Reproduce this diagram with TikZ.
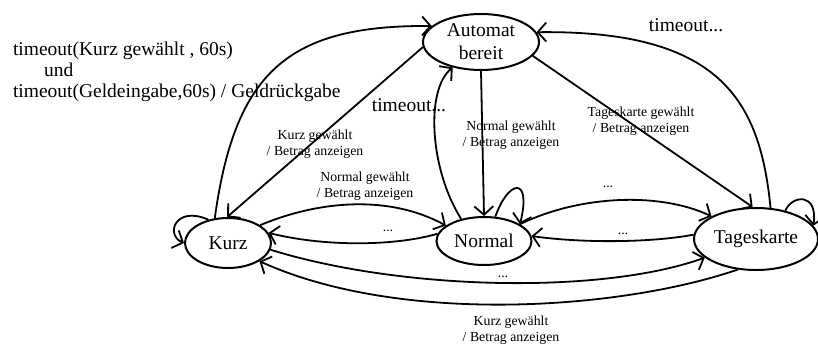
\documentclass[tikz,border=0pt]{standalone}
\usepackage{fontspec}
\setmainfont{Liberation Serif}
\usetikzlibrary{arrows.meta,shapes.geometric}
\begin{document}
\begin{tikzpicture}[x=1pt,y=-1pt,
  line width=2pt,
  state/.style={ellipse, draw, line width=2pt, inner sep=0pt, align=center,
    font=\fontsize{19.5}{23}\selectfont},
  big/.style={font=\fontsize{19.5}{21}\selectfont, inner sep=0pt},
  small/.style={font=\fontsize{13.8}{16}\selectfont, inner sep=0pt, align=center},
  trans/.style={-{Straight Barb[length=8.5pt,width=19pt]}, line width=1.8pt},
]
\fill[white] (0,0) rectangle (818,345);
\useasboundingbox (0,0) rectangle (818,345);

% states
\node[state, minimum width=116, minimum height=56] (auto) at (481,42) {Automat\\bereit};
\node[state, minimum width=86, minimum height=50] (kurz) at (228,243) {Kurz};
\node[state, minimum width=95, minimum height=48] (normal) at (484,241) {Normal};
\node[state, minimum width=124, minimum height=62] (tages) at (756,239) {Tageskarte};

% transitions to and from the ready state
\draw[trans] (kurz.118) .. controls (235,70) and (290,25) .. (auto.162);
\draw[trans] (auto.185) -- (kurz.92);
\draw[trans] (normal.136) .. controls (430,170) and (425,90) .. (auto.222);
\draw[trans] (auto.south) -- (normal.north);
\draw[trans] (auto.-15) -- (tages.96);
\draw[trans] (tages.65) .. controls (760,100) and (720,30) .. (auto.10);

% self loops
\draw[trans] (kurz.130) .. controls (175,205) and (165,235) .. (kurz.180);
\draw[trans] (normal.65) .. controls (508,180) and (532,175) .. (normal.25);
\draw[trans] (tages.44) .. controls (792,195) and (818,192) .. (tages.13);

% transitions between ticket types
\draw[trans] (kurz.29) .. controls (320,200) and (390,195) .. (normal.158);
\draw[trans] (normal.171) .. controls (400,245) and (330,248) .. (kurz.14);
\draw[trans] (normal.25) .. controls (580,195) and (660,192) .. (tages.153);
\draw[trans] (tages.176) .. controls (650,243) and (580,243) .. (normal.6);
\draw[trans] (kurz.351) .. controls (400,290) and (600,295) .. (tages.200);
\draw[trans] (tages.239) .. controls (620,310) and (400,325) .. (kurz.330);

% labels
\node[big, align=left, anchor=base west] (lblkurz) at (12,97)
  {timeout(Kurz gewählt , 60s)\\\hspace*{31pt}und\\timeout(Geldeingabe,60s) / Geldrückgabe};
\node[big] (lblnormal) at (409,105) {timeout...};
\node[big] (lbltages) at (686,25) {timeout...};

\node[small] (l1) at (315,144) {Kurz gewählt\\/ Betrag anzeigen};
\node[small] (l2) at (365,186) {Normal gewählt\\/ Betrag anzeigen};
\node[small] (l3) at (511,135) {Normal gewählt\\/ Betrag anzeigen};
\node[small] (l4) at (641,121) {Tageskarte gewählt\\/ Betrag anzeigen};
\node[small] (l5) at (511,330) {Kurz gewählt\\/ Betrag anzeigen};

\node[small] (d1) at (388,231) {...};
\node[small] (d2) at (608,187) {...};
\node[small] (d3) at (623,234) {...};
\node[small] (d4) at (503,277) {...};
\end{tikzpicture}
\end{document}
